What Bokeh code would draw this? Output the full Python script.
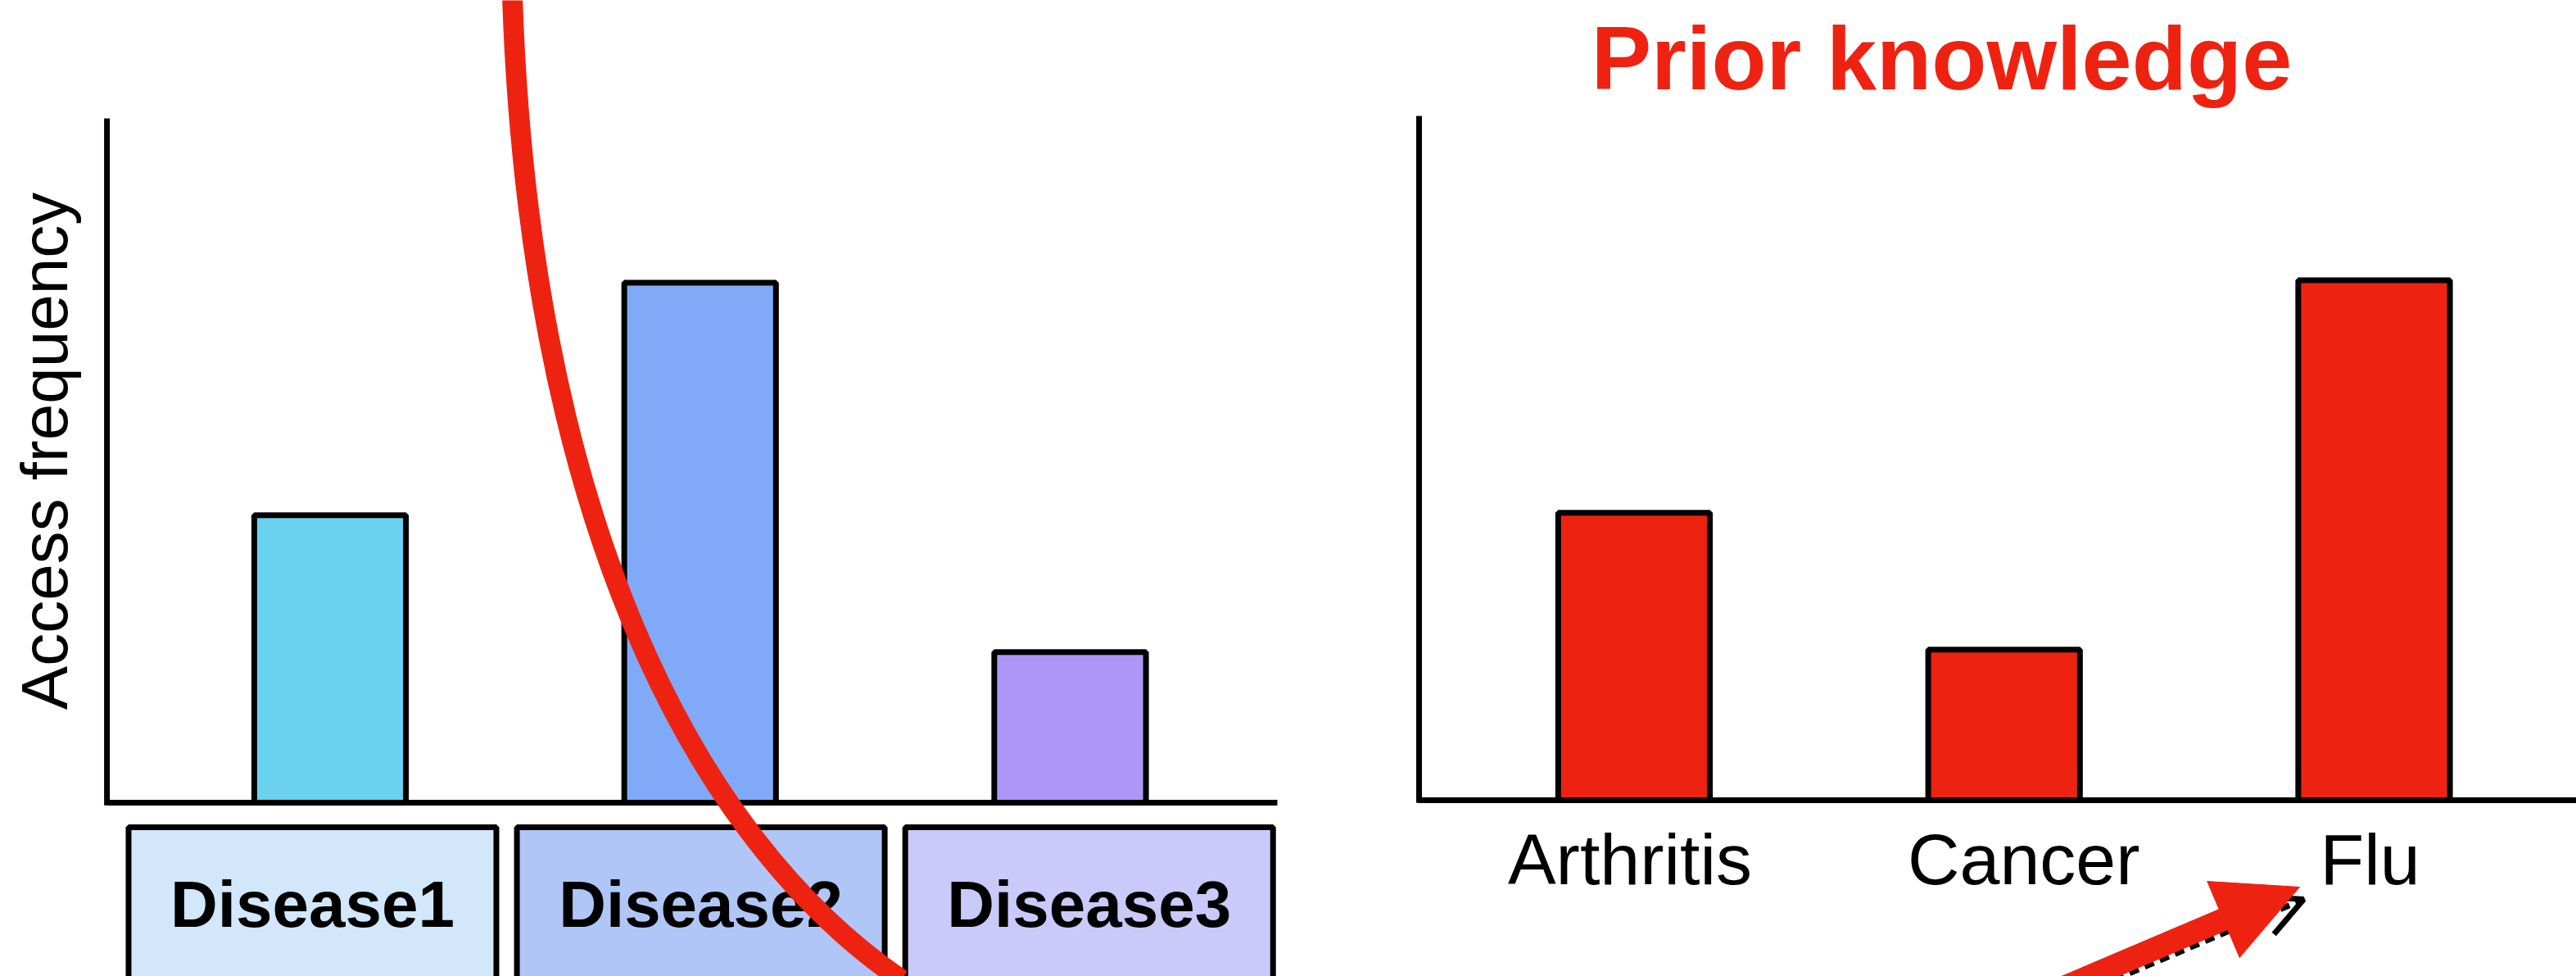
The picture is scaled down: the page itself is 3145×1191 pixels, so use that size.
from math import pi

from bokeh.core.properties import value
from bokeh.embed import file_html
from bokeh.models import Arrow, ColumnDataSource, NormalHead, OpenHead, Range1d
from bokeh.plotting import figure
from bokeh.resources import INLINE

# ---- data -------------------------------------------------------------
diseases = ["Disease1", "Disease2", "Disease3"]
access_freq = [42, 76, 22]

priors = ["Arthritis", "Cancer", "Flu"]
prior_freq = [42, 22, 76]

axis_max = 100

# ---- styling ------------------------------------------------------------
bar_colors = ["#6AD1EE", "#80AAF8", "#AD97F9"]
box_colors = ["#D2E7FA", "#B0C6F6", "#CACAFA"]
RED = "#EE2211"
FONT = value("Liberation Sans")

W, H = 3145, 1191

# page frame in pixel-like units (y grows downward) for the free-hand parts
p = figure(width=W, height=H, x_range=Range1d(0, W), y_range=Range1d(H, 0),
           x_axis_type=None, y_axis_type=None, toolbar_location=None,
           output_backend="svg", min_border=0, outline_line_color=None)
p.background_fill_color = "white"

# each panel gets its own value scales, laid over the shared frame
PX_PER_UNIT = 8.35      # vertical pixels per frequency unit
SLOT = 451.75           # horizontal pixels per category slot
L_BASE, R_BASE = 979, 976
L_FIRST, R_FIRST = 402.5, 1994.5
p.extra_y_ranges = {
    "ly": Range1d(start=(L_BASE - H) / PX_PER_UNIT, end=L_BASE / PX_PER_UNIT),
    "ry": Range1d(start=(R_BASE - H) / PX_PER_UNIT, end=R_BASE / PX_PER_UNIT),
}
p.extra_x_ranges = {
    "lx": Range1d(start=-L_FIRST / SLOT, end=(W - L_FIRST) / SLOT),
    "rx": Range1d(start=-R_FIRST / SLOT, end=(W - R_FIRST) / SLOT),
}

idx = list(range(len(diseases)))

# ---- left panel: category boxes under the axis ---------------------------
BOX_STEP, BOX_SHIFT, BOX_W = 1.0495, -0.0476, 0.994
box_centers = [i * BOX_STEP + BOX_SHIFT for i in idx]
boxes = ColumnDataSource(dict(
    left=[c - BOX_W / 2 for c in box_centers],
    right=[c + BOX_W / 2 for c in box_centers],
    color=box_colors, label=diseases, xc=box_centers))
p.quad(left="left", right="right", top=1009, bottom=1300, source=boxes,
       fill_color="color", line_color="black", line_width=7, x_range_name="lx")
p.text(x="xc", y=1103, text="label", source=boxes, x_range_name="lx",
       text_font=FONT, text_font_style="bold", text_font_size="80px",
       text_color="black", text_align="center", text_baseline="alphabetic")

# ---- left panel: bars and axes ---------------------------------------------
left_src = ColumnDataSource(dict(x=idx, top=access_freq, color=bar_colors))
p.vbar(x="x", top="top", bottom=0, width=0.41, source=left_src,
       fill_color="color", line_color="black", line_width=7,
       x_range_name="lx", y_range_name="ly")
p.segment(x0=[-0.603, -0.603], y0=[-0.4, 0], x1=[-0.603, 2.56], y1=[axis_max, 0],
          line_color="black", line_width=7, x_range_name="lx", y_range_name="ly")
p.text(x=[54], y=[550], text=["Access frequency"], angle=pi / 2,
       text_font=FONT, text_font_size="80px", text_color="black",
       text_align="center", text_baseline="alphabetic")

# ---- right panel: prior knowledge ------------------------------------------
right_src = ColumnDataSource(dict(x=idx, top=prior_freq, label=priors,
                                  nudge=[-5, 24, -5]))
p.vbar(x="x", top="top", bottom=0, width=0.41, source=right_src,
       fill_color=RED, line_color="black", line_width=7,
       x_range_name="rx", y_range_name="ry")
p.segment(x0=[-0.581, -0.581], y0=[-0.4, 0], x1=[-0.581, 3.0], y1=[axis_max, 0],
          line_color="black", line_width=7, x_range_name="rx", y_range_name="ry")
p.text(x="x", y=1048, text="label", x_offset="nudge", source=right_src,
       x_range_name="rx", text_font=FONT, text_font_size="88px",
       text_color="black", text_align="center", text_baseline="alphabetic")
p.text(x=[2370], y=[70], text=["Prior knowledge"], text_font=FONT,
       text_font_style="bold", text_font_size="110px", text_color=RED,
       text_align="center", text_baseline="alphabetic")

# ---- sweeping red stroke across the left panel ------------------------------
p.bezier(x0=[625], y0=[-5], x1=[1100], y1=[1195], cx0=[645], cy0=[600],
         cx1=[830], cy1=[1010], line_color=RED, line_width=25)

# ---- arrows pointing at "Flu" -----------------------------------------------
p.add_layout(Arrow(end=OpenHead(size=50, line_color="black", line_width=7),
                   x_start=2397, y_start=1273, x_end=2812, y_end=1097,
                   line_color="black", line_width=7, line_dash="12 8"))
p.add_layout(Arrow(end=NormalHead(size=101, fill_color=RED, line_color=RED,
                                  line_width=1),
                   x_start=2393, y_start=1258, x_end=2807, y_end=1082,
                   line_color=RED, line_width=28))

open("out.html", "w").write(file_html(p, INLINE))
